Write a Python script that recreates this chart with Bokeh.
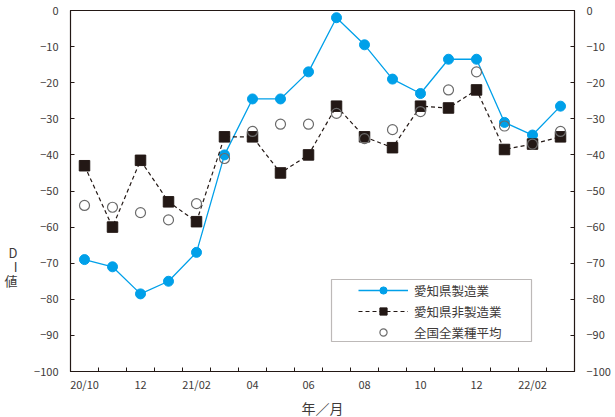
from bokeh.plotting import figure
from bokeh.models import (LinearAxis, FixedTicker, Range1d, Legend, LegendItem,
                          BoxAnnotation, ColumnDataSource)
from bokeh.embed import file_html
from bokeh.resources import INLINE

months = ["20/10", "20/11", "20/12", "21/01", "21/02", "21/03", "21/04", "21/05", "21/06",
          "21/07", "21/08", "21/09", "21/10", "21/11", "21/12", "22/01", "22/02", "22/03"]
tick_labels = ["20/10", "12", "21/02", "04", "06", "08", "10", "12", "22/02"]
aichi_mfg = [-69, -71, -78.5, -75, -67, -40, -24.5, -24.5, -17, -2, -9.5, -19, -23,
             -13.5, -13.5, -31, -34.5, -26.5]
aichi_nonmfg = [-43, -60, -41.5, -53, -58.5, -35, -35, -45, -40, -26.5, -35, -38, -26.5,
                -27, -22, -38.5, -37, -35]
national_all = [-54, -54.5, -56, -58, -53.5, -41, -33.5, -31.5, -31.5, -28.5, -35.5, -33,
                -28, -22, -17, -32, -37, -33.5]
y_ticks = [0, -10, -20, -30, -40, -50, -60, -70, -80, -90, -100]
y_title_chars = ["D", "I", "値"]

BLUE = "#00A0E9"
DARK = "#231815"
TXT = "#3e3a39"
FONT = "Noto Sans CJK JP"

xs = list(range(len(months)))
src = ColumnDataSource(dict(x=xs, mfg=aichi_mfg, non=aichi_nonmfg, nat=national_all))

p = figure(frame_width=504, frame_height=361, output_backend="svg", toolbar_location=None,
           x_range=Range1d(-0.5, len(months) - 0.5), y_range=Range1d(-100, 0),
           min_border_left=70, min_border_right=40, min_border_top=10, min_border_bottom=38)
p.background_fill_color = "white"
p.border_fill_color = "white"
p.outline_line_color = DARK
p.outline_line_width = 1.2
p.xgrid.visible = False
p.ygrid.visible = False

# x axis
label_pos = list(range(0, len(months), 2))
p.xaxis.ticker = FixedTicker(ticks=label_pos,
                             minor_ticks=[i - 0.5 for i in range(len(months) + 1)])
p.xaxis.major_label_overrides = {pos: lab for pos, lab in zip(label_pos, tick_labels)}
p.xaxis.major_tick_in = 0
p.xaxis.major_tick_out = 0
p.xaxis.minor_tick_in = 4
p.xaxis.minor_tick_out = 0
p.xaxis.axis_line_color = DARK
p.xaxis.minor_tick_line_color = DARK
p.xaxis.major_label_standoff = 4
p.xaxis.axis_label = "年／月"
p.xaxis.axis_label_standoff = 3
p.xaxis.axis_label_text_font_style = "normal"
p.xaxis.axis_label_text_font_size = "14px"
p.xaxis.axis_label_text_font = FONT
p.xaxis.axis_label_text_color = TXT
p.xaxis.major_label_text_font = FONT
p.xaxis.major_label_text_font_size = "11px"
p.xaxis.major_label_text_color = TXT

# left axis
p.yaxis.ticker = FixedTicker(ticks=y_ticks)
p.yaxis.major_tick_in = 4
p.yaxis.major_tick_out = 0
p.yaxis.minor_tick_in = 0
p.yaxis.minor_tick_out = 0
p.yaxis.axis_line_color = DARK
p.yaxis.major_tick_line_color = DARK
p.yaxis.major_label_standoff = 12
p.yaxis.major_label_text_font = FONT
p.yaxis.major_label_text_font_size = "11px"
p.yaxis.major_label_text_color = TXT

# right axis
ra = LinearAxis(ticker=FixedTicker(ticks=y_ticks))
ra.major_tick_in = 4
ra.major_tick_out = 0
ra.minor_tick_in = 0
ra.minor_tick_out = 0
ra.axis_line_color = DARK
ra.major_tick_line_color = DARK
ra.major_label_standoff = 12
ra.major_label_text_font = FONT
ra.major_label_text_font_size = "11px"
ra.major_label_text_color = TXT
p.add_layout(ra, "right")

# stacked vertical y-axis title, drawn as labels of an extra, line-less left axis
title_pos = [-67.0 - 3.9 * i for i in range(len(y_title_chars))]
ta = LinearAxis(ticker=FixedTicker(ticks=title_pos))
ta.major_label_overrides = {t: ch for t, ch in zip(title_pos, y_title_chars)}
ta.axis_line_color = None
ta.major_tick_line_color = None
ta.minor_tick_line_color = None
ta.major_tick_in = 0
ta.major_tick_out = 0
ta.minor_tick_in = 0
ta.minor_tick_out = 0
ta.major_label_standoff = 14
ta.major_label_text_font = FONT
ta.major_label_text_font_size = "13px"
ta.major_label_text_color = TXT
p.add_layout(ta, "left")

# series
l1 = p.line("x", "mfg", source=src, color=BLUE, line_width=1.3)
c1 = p.scatter("x", "mfg", source=src, marker="circle", size=10, fill_color=BLUE,
               line_color=BLUE)
l2 = p.line("x", "non", source=src, color=DARK, line_width=1.2, line_dash="4 3")
s2 = p.scatter("x", "non", source=src, marker="square", size=10.5, fill_color=DARK,
               line_color=DARK)
c3 = p.scatter("x", "nat", source=src, marker="circle", size=10, fill_color=None,
               line_color="#6b6b6b", line_width=1.2)

box = BoxAnnotation(left=331, right=531, top=279, bottom=341,
                    left_units="canvas", right_units="canvas",
                    top_units="canvas", bottom_units="canvas",
                    fill_color="white", fill_alpha=1.0, line_color=DARK, line_width=1.2)
p.add_layout(box)

legend = Legend(items=[LegendItem(label="愛知県製造業", renderers=[l1, c1]),
                       LegendItem(label="愛知県非製造業", renderers=[l2, s2]),
                       LegendItem(label="全国全業種平均", renderers=[c3])],
                location=(288, 29), orientation="vertical")
legend.border_line_color = None
legend.background_fill_alpha = 0
legend.padding = 0
legend.margin = 0
legend.spacing = 1
legend.glyph_width = 50
legend.glyph_height = 18
legend.label_height = 20
legend.label_standoff = 6
legend.label_text_font = FONT
legend.label_text_font_size = "12.5px"
legend.label_text_color = TXT
p.add_layout(legend)

open("out.html", "w").write(file_html(p, INLINE))
